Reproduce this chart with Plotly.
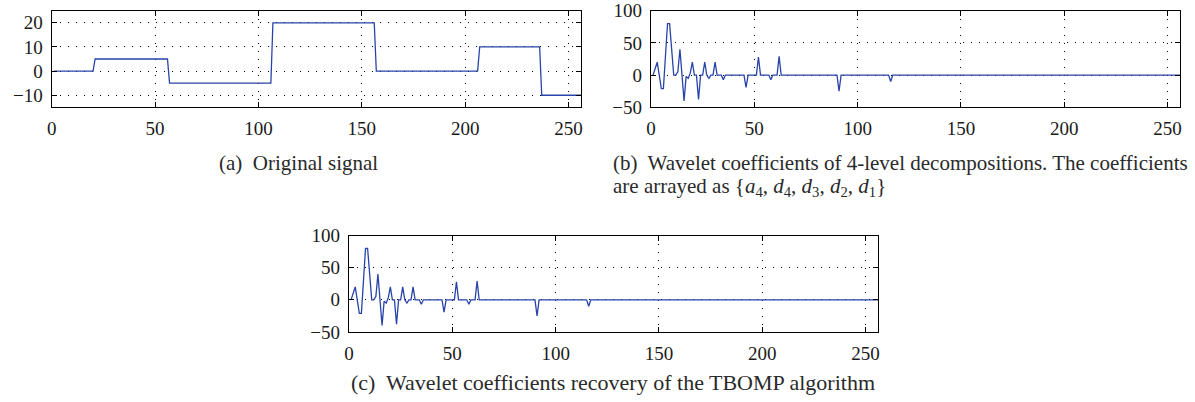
import plotly.graph_objects as go

# ---------------- data ----------------
# (a) original piecewise-constant signal, samples 1..256
seg_start = [1, 21, 57, 107, 157, 207, 237]
seg_level = [0, 5, -5, 20, 0, 10, -10]
n_samples = 256

# (b) wavelet coefficients: first 64 samples (x = 1..64)
coef_b_head = [0, 10, 20, 0, -21, -21, 30, 80, 80, 35,
               0, 0, 5, 40, 0, -40, -2, -5, 3, 20,
               0, 0, -38, 0, 0, 20, 0, -5, 0, 0,
               20, 0, 0, 0, -7, 0, 0, 0, 0, 0,
               0, 0, 0, 0, 0, -19, 0, 0, 0, 0,
               0, 28, 0, 0, 0, 0, 0, -7, 0, 0,
               0, 29, 0, 0]
coef_b_tail_x = [91, 116]
coef_b_tail_v = [-25, -10]

# (c) recovered coefficients (TBOMP)
coef_c_head = [0, 10, 20, 0, -21, -21, 30, 80, 80, 35,
               0, 0, 5, 40, 0, -40, -2, -5, 3, 20,
               0, 0, -38, 0, 0, 20, 0, -5, 0, 0,
               20, 0, 0, 0, -7, 0, 0, 0, 0, 0,
               0, 0, 0, 0, 0, -19, 0, 0, 0, 0,
               0, 28, 0, 0, 0, 0, 0, -7, 0, 0,
               0, 29, 0, 0]
coef_c_tail_x = [91, 116]
coef_c_tail_v = [-25, -10]

x_ticks = [0, 50, 100, 150, 200, 250]
ya_ticks = [-10, 0, 10, 20]
yb_ticks = [-50, 0, 50, 100]

captions = [
    "(a)  Original signal",
    "(b)  Wavelet coefficients of 4-level decompositions. The coefficients",
    "are arrayed as {<i>a</i><sub>4</sub>, <i>d</i><sub>4</sub>, <i>d</i><sub>3</sub>, <i>d</i><sub>2</sub>, <i>d</i><sub>1</sub>}",
    "(c)  Wavelet coefficients recovery of the TBOMP algorithm",
]

# ---------------- build series ----------------
xs = list(range(1, n_samples + 1))
sig = []
for x in xs:
    lvl = seg_level[0]
    for s, l in zip(seg_start, seg_level):
        if x >= s:
            lvl = l
    sig.append(lvl)


def build(head, tx, tv):
    arr = list(head) + [0] * (n_samples - len(head))
    for x, v in zip(tx, tv):
        arr[x - 1] = v
    return arr


cb = build(coef_b_head, coef_b_tail_x, coef_b_tail_v)
cc = build(coef_c_head, coef_c_tail_x, coef_c_tail_v)

W, H = 1195, 402
LINE = dict(color="rgb(40,68,170)", width=1.3)
FONT = "Liberation Serif, Times New Roman, serif"


def dx(p):
    return p / W


def dy(p):
    return 1 - p / H


fig = go.Figure()
fig.add_trace(go.Scatter(x=xs, y=sig, mode="lines", line=LINE, xaxis="x", yaxis="y", showlegend=False))
fig.add_trace(go.Scatter(x=xs, y=cb, mode="lines", line=LINE, xaxis="x2", yaxis="y2", showlegend=False))
fig.add_trace(go.Scatter(x=xs, y=cc, mode="lines", line=LINE, xaxis="x3", yaxis="y3", showlegend=False))

axis_common = dict(
    showline=True, linecolor="black", linewidth=1.3, mirror="ticks",
    ticks="inside", ticklen=5, tickcolor="black", tickwidth=1.3,
    showgrid=True, gridcolor="black", gridwidth=1.2, griddash="1px,7px",
    zeroline=False, automargin=False, ticklabeloverflow="allow",
    tickfont=dict(family=FONT, size=19, color="#1a1a1a"),
)

boxes = {
    "": ((51.7, 581), (10.7, 107.3), ya_ticks, [-15, 25]),
    "2": ((651, 1180), (10.7, 107.3), yb_ticks, [-50, 100]),
    "3": ((349, 878), (235.5, 332), yb_ticks, [-50, 100]),
}
layout = {}
for k, ((x0, x1), (y0, y1), yt, yr) in boxes.items():
    layout["xaxis" + k] = dict(axis_common, domain=[dx(x0), dx(x1)], range=[0, 256],
                               tickvals=x_ticks, anchor="y" + k, ticklabelstandoff=4)
    layout["yaxis" + k] = dict(axis_common, domain=[dy(y1), dy(y0)], range=yr,
                               tickvals=yt, anchor="x" + k, ticklabelstandoff=4)

fig.update_layout(**layout)
fig.update_layout(
    width=W, height=H, margin=dict(l=0, r=0, t=0, b=0),
    paper_bgcolor="white", plot_bgcolor="white",
    font=dict(family=FONT, color="#333"),
)

cap_font = dict(family=FONT, size=21, color="#2a2a2a")
fig.add_annotation(text=captions[0], x=dx(299), y=dy(163), xref="paper", yref="paper",
                   showarrow=False, font=cap_font, xanchor="center", yanchor="middle")
fig.add_annotation(text=captions[1], x=dx(611), y=dy(163), xref="paper", yref="paper",
                   showarrow=False, font=cap_font, xanchor="left", yanchor="middle")
fig.add_annotation(text=captions[2], x=dx(611), y=dy(187), xref="paper", yref="paper",
                   showarrow=False, font=cap_font, xanchor="left", yanchor="middle")
fig.add_annotation(text=captions[3], x=dx(613), y=dy(382), xref="paper", yref="paper",
                   showarrow=False, font=dict(cap_font, size=22), xanchor="center", yanchor="middle")

fig.write_html("out.html", config={"displayModeBar": False},
               post_script="document.body.style.margin='0';document.body.style.overflow='hidden';")
